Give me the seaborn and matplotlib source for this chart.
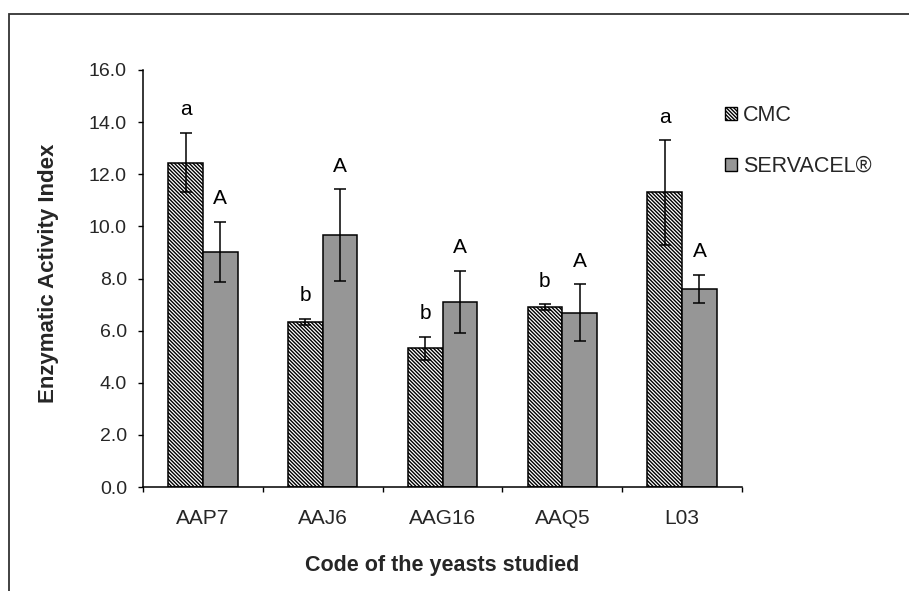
import matplotlib
matplotlib.use("Agg")
import matplotlib.pyplot as plt
from matplotlib.patches import Rectangle, Patch
import numpy as np
import pandas as pd
import seaborn as sns

# Yeast strains and enzymatic activity index per substrate
strains = ["AAP7", "AAJ6", "AAG16", "AAQ5", "L03"]
substrates = ["CMC", "SERVACEL®"]
cmc_mean = [12.45, 6.33, 5.32, 6.91, 11.30]
cmc_err = [1.15, 0.13, 0.45, 0.10, 2.00]
serv_mean = [9.02, 9.67, 7.10, 6.69, 7.60]
serv_err = [1.16, 1.76, 1.20, 1.09, 0.55]
cmc_letters = ["a", "b", "b", "b", "a"]
serv_letters = ["A", "A", "A", "A", "A"]
y_ticks = [0, 2, 4, 6, 8, 10, 12, 14, 16]

df = pd.DataFrame({
    "strain": strains * 2,
    "substrate": [substrates[0]] * len(strains) + [substrates[1]] * len(strains),
    "value": cmc_mean + serv_mean,
})

sns.set_theme(style="white")
plt.rcParams["font.family"] = ["Liberation Sans", "DejaVu Sans"]
plt.rcParams["hatch.color"] = "#2b2b2b"
plt.rcParams["hatch.linewidth"] = 1.0

HATCH = "\\" * 9
W, H = 909, 591
ax_l, ax_r, ax_t, ax_b = 143, 742, 70, 487

fig = plt.figure(figsize=(W / 100, H / 100), dpi=100)
ax = fig.add_axes([ax_l / W, 1 - ax_b / H, (ax_r - ax_l) / W, (ax_b - ax_t) / H])

sns.barplot(data=df, x="strain", y="value", hue="substrate", order=strains,
            hue_order=substrates, palette=["white", "#969696"], errorbar=None,
            width=0.58, gap=0, edgecolor="black", linewidth=1.1, ax=ax,
            legend=False)

n = len(strains)
bars = ax.patches[: 2 * n]
for i, b in enumerate(bars):
    if i < n:
        b.set_hatch(HATCH)
        b.set_facecolor("white")

# Error bars and significance letters
for i, b in enumerate(bars):
    grp = 0 if i < n else 1
    j = i % n
    mean = cmc_mean[j] if grp == 0 else serv_mean[j]
    err = cmc_err[j] if grp == 0 else serv_err[j]
    letter = cmc_letters[j] if grp == 0 else serv_letters[j]
    xc = b.get_x() + b.get_width() / 2
    ax.errorbar(xc, mean, yerr=err, fmt="none", ecolor="black",
                elinewidth=1.1, capsize=4.5, capthick=1.1, zorder=5)
    ax.text(xc, mean + err + 0.88, letter, ha="center", va="center",
            fontsize=15, color="black")

ax.set_ylim(0, 16)
ax.set_xlim(-0.5, n - 0.5)
ax.set_yticks(y_ticks)
ax.set_yticklabels([f"{t:.1f}" for t in y_ticks], fontsize=14)
ax.tick_params(axis="y", direction="out", length=3.6, width=1, color="black",
               left=True, pad=8)
# category boundary ticks on the x axis
ax.set_xticks(np.arange(n))
ax.set_xticklabels(strains, fontsize=15)
ax.set_xticks(np.arange(n + 1) - 0.5, minor=True)
ax.tick_params(axis="x", which="major", length=0, pad=16)
ax.tick_params(axis="x", which="minor", direction="out", length=3.6, width=1,
               color="black", bottom=True)
sns.despine(ax=ax)
for s in ["left", "bottom"]:
    ax.spines[s].set_color("black")
    ax.spines[s].set_linewidth(1.1)

ax.set_xlabel("Code of the yeasts studied", fontsize=15.5, fontweight="bold")
ax.set_ylabel("Enzymatic Activity Index", fontsize=16, fontweight="bold")
ax.xaxis.set_label_coords(0.5, (ax_b - 565) / (ax_b - ax_t))
ax.xaxis.label.set_va("center")
ax.yaxis.set_label_coords((49 - ax_l) / (ax_r - ax_l), 1 - (273 - ax_t) / (ax_b - ax_t))
ax.yaxis.label.set_va("center")

handles = [Patch(facecolor="white", edgecolor="black", hatch=HATCH, linewidth=1),
           Patch(facecolor="#969696", edgecolor="black", linewidth=1)]
fig.legend(handles, substrates, loc="upper left",
           bbox_to_anchor=(725 / W, 1 - 105 / H),
           frameon=False, fontsize=15.5, handlelength=0.56, handleheight=0.56,
           handletextpad=0.28, labelspacing=1.39, borderpad=0, borderaxespad=0)

# outer frame (top and left edges visible)
fig.add_artist(Rectangle((9 / W, -0.1), 1.2, 1 - 14 / H + 0.1,
                         transform=fig.transFigure, fill=False,
                         edgecolor="#333333", linewidth=1.3))

fig.savefig("out.png", dpi=100, facecolor="white")
